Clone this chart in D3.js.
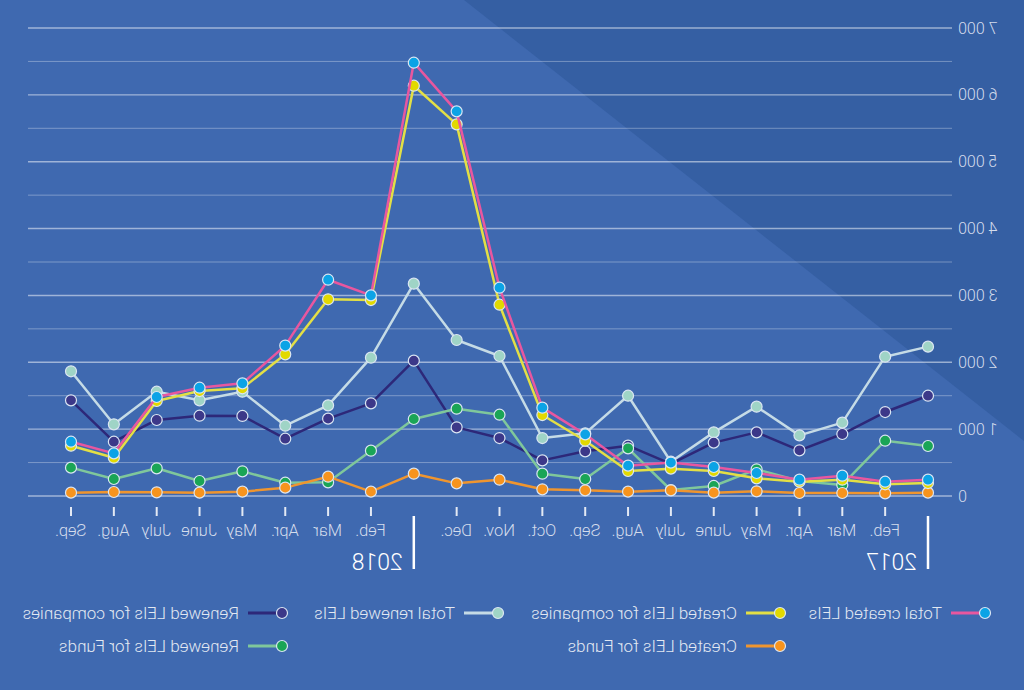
<!DOCTYPE html>
<html><head><meta charset="utf-8">
<script src="https://cdn.jsdelivr.net/npm/d3@7"></script>
<style>html,body{margin:0;padding:0;background:#3f69b0;}svg{display:block;}</style>
</head><body>
<svg id="c" width="1024" height="690"></svg>
<script>
// Months in chronological order (Jan 2017 .. Sep 2018)
const months = ["2017-01","2017-02","2017-03","2017-04","2017-05","2017-06","2017-07","2017-08","2017-09","2017-10","2017-11","2017-12",
                "2018-01","2018-02","2018-03","2018-04","2018-05","2018-06","2018-07","2018-08","2018-09"];
const monthLabels = ["","Feb.","Mar","Apr.","May","June","July","Aug.","Sep.","Oct.","Nov.","Dec.",
                     "","Feb.","Mar","Apr.","May","June","July","Aug.","Sep."];
const years = [{label:"2017", at:"2017-01"},{label:"2018", at:"2018-01"}];
const yTicks = [0,1000,2000,3000,4000,5000,6000,7000];

const totalCreated     = [244,214,304,244,344,434,500,454,922,1321,3116,5753,6481,3001,3235,2250,1685,1620,1481,638,812];
const createdCompanies = [194,175,244,214,264,374,409,374,827,1211,2861,5559,6137,2931,2942,2119,1611,1570,1421,573,752];
const createdFunds     = [50,40,45,45,70,50,85,65,85,100,244,189,334,65,289,125,65,50,55,60,50];
const totalRenewed     = [2234,2084,1097,907,1336,952,513,1500,937,867,2094,2333,3176,2069,1356,1052,1560,1431,1560,1072,1865];
const renewedCompanies = [1500,1256,927,683,952,798,480,753,668,533,867,1027,2024,1386,1157,857,1197,1201,1137,812,1431];
const renewedFunds     = [748,827,165,225,399,150,90,713,254,334,1216,1306,1152,678,204,199,369,224,414,254,424];

const series = [
  {name:"Total renewed LEIs", values:totalRenewed, line:"#c5dbe6", dot:"#9fd4c6"},
  {name:"Renewed LEIs for companies", values:renewedCompanies, line:"#2d2879", dot:"#3c3889"},
  {name:"Renewed LEIs for Funds", values:renewedFunds, line:"#7fc79b", dot:"#1aa556"},
  {name:"Created LEIs for Funds", values:createdFunds, line:"#ef952f", dot:"#f7941e"},
  {name:"Created LEIs for companies", values:createdCompanies, line:"#e3df45", dot:"#e2d900"},
  {name:"Total created LEIs", values:totalCreated, line:"#e8579f", dot:"#0ba3e6"}
];
const legendItems = [
  {s:"Total created LEIs", col:0, row:0},
  {s:"Created LEIs for companies", col:1, row:0},
  {s:"Total renewed LEIs", col:2, row:0},
  {s:"Renewed LEIs for companies", col:3, row:0},
  {s:"Created LEIs for Funds", col:1, row:1},
  {s:"Renewed LEIs for Funds", col:3, row:1}
];

const font = "Roboto, 'Open Sans', sans-serif";
const svg = d3.select("#c");
svg.append("rect").attr("width",1024).attr("height",690).attr("fill","#3f69b0");
// the whole picture is mirrored horizontally
const g = svg.append("g").attr("transform","translate(1024,0) scale(-1,1)");
g.append("path").attr("d","M0,0L560,0L0,441Z").attr("fill","#355fa3");

const x = d3.scalePoint().domain(months).range([96,953]);
const y = d3.scaleLinear().domain([0,7000]).range([496,28]);

// grid
const grid = d3.range(0,7001,500);
g.append("g").selectAll("line").data(grid).join("line")
  .attr("x1",72).attr("x2",996).attr("y1",d=>y(d)).attr("y2",d=>y(d))
  .attr("stroke","#ffffff").attr("stroke-opacity",d=>d%1000===0?0.5:0.32)
  .attr("stroke-width",d=>d%1000===0?1.4:1);

// y axis
const yAxis = d3.axisLeft(y).tickValues(yTicks).tickSize(0).tickPadding(0)
  .tickFormat(d=>d3.format(",")(d).replace(",", " "));
const ya = g.append("g").attr("transform","translate(66,0)").call(yAxis);
ya.select(".domain").remove();
ya.selectAll("text").attr("font-family",font).attr("font-size",16).attr("fill","#d4dcec").attr("font-weight",300);

// x axis
const xAxis = d3.axisBottom(x).tickSize(0).tickPadding(0).tickFormat((d,i)=>monthLabels[i]);
const xa = g.append("g").attr("transform","translate(0,531)").call(xAxis);
xa.select(".domain").remove();
xa.selectAll("text").attr("font-family",font).attr("font-size",16.5).attr("fill","#d4dcec").attr("font-weight",300).attr("dy","0.3em");
g.append("g").selectAll("line").data(months.filter((m,i)=>monthLabels[i]!=="")).join("line")
  .attr("x1",d=>x(d)).attr("x2",d=>x(d)).attr("y1",507).attr("y2",516)
  .attr("stroke","#e3e9f4").attr("stroke-width",2);
// year dividers
years.forEach(yy=>{
  g.append("line").attr("x1",x(yy.at)).attr("x2",x(yy.at)).attr("y1",516).attr("y2",569)
    .attr("stroke","#ffffff").attr("stroke-width",2.5);
  g.append("text").attr("x",x(yy.at)+11).attr("y",570).text(yy.label)
    .attr("font-family",font).attr("font-size",23).attr("fill","#ffffff").attr("font-weight",300);
});

// lines
const line = d3.line().x((d,i)=>x(months[i])).y(d=>y(d));
series.forEach(s=>{
  const sg = g.append("g");
  sg.append("path").datum(s.values).attr("d",line).attr("fill","none")
    .attr("stroke",s.line).attr("stroke-width",2.5).attr("stroke-linejoin","round");
  sg.selectAll("circle").data(s.values).join("circle")
    .attr("cx",(d,i)=>x(months[i])).attr("cy",d=>y(d)).attr("r",5.5)
    .attr("fill",s.dot).attr("stroke","#dbe6f3").attr("stroke-width",1.2);
});

// legend
const colX = [39,244,526,742];
const rowY = [613,646];
legendItems.forEach(it=>{
  const s = series.find(z=>z.name===it.s);
  const lx = colX[it.col], ly = rowY[it.row];
  g.append("line").attr("x1",lx).attr("x2",lx+34).attr("y1",ly).attr("y2",ly)
    .attr("stroke",s.line).attr("stroke-width",3);
  g.append("circle").attr("cx",lx).attr("cy",ly).attr("r",5.5).attr("fill",s.dot)
    .attr("stroke","#dbe6f3").attr("stroke-width",1.2);
  g.append("text").attr("x",lx+43).attr("y",ly).attr("dy","0.35em").text(s.name)
    .attr("font-family",font).attr("font-size",17).attr("fill","#e2e8f2").attr("font-weight",300);
});
</script>
</body></html>
